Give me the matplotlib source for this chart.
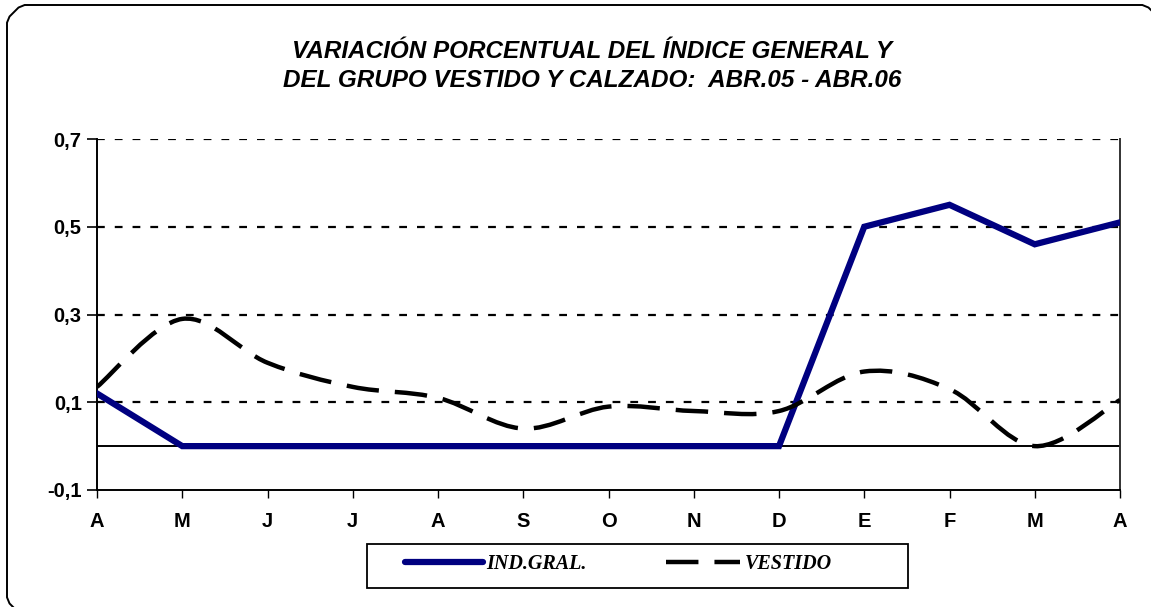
import numpy as np
import matplotlib
matplotlib.use("Agg")
import matplotlib.pyplot as plt
from matplotlib.path import Path
from matplotlib.patches import PathPatch, Rectangle
from matplotlib.lines import Line2D
from matplotlib.transforms import IdentityTransform, Affine2D

months = ["A", "M", "J", "J", "A", "S", "O", "N", "D", "E", "F", "M", "A"]
ind_gral = [0.12, 0.0, 0.0, 0.0, 0.0, 0.0, 0.0, 0.0, 0.0, 0.50, 0.55, 0.46, 0.51]
vestido = [0.135, 0.29, 0.19, 0.135, 0.11, 0.04, 0.09, 0.08, 0.08, 0.17, 0.13, 0.0, 0.105]
yticks = [-0.1, 0.1, 0.3, 0.5, 0.7]
ytick_labels = ["-0,1", "0,1", "0,3", "0,5", "0,7"]
series_names = ["IND.GRAL.", "VESTIDO"]
title = "VARIACIÓN PORCENTUAL DEL ÍNDICE GENERAL Y\nDEL GRUPO VESTIDO Y CALZADO:  ABR.05 - ABR.06"

W, H = 1151, 607
fig = plt.figure(figsize=(W/100, H/100), dpi=100)

# rounded frame in pixel units (cropped at right and bottom, as in the reference)
def corner(cx, cy, r, t1, t2):
    p = Path.arc(t1, t2)
    return Affine2D().scale(r).translate(cx, cy).transform(p.vertices)
r = 24
L, R, T, B = 7, 1160, H - 5, H - 615
pts = np.vstack([
    corner(L + r, B + r, r, 180, 270)[::-1],
    corner(L + r, T - r, r, 90, 180)[::-1],
    corner(R - r, T - r, r, 0, 90)[::-1],
    corner(R - r, B + r, r, 270, 360)[::-1],
])
pts = np.vstack([pts, pts[:1]])
fig.patches.append(PathPatch(Path(pts), transform=IdentityTransform(), fill=False,
                             edgecolor="black", linewidth=1.4))

ax = fig.add_axes([97/W, 1-490/H, (1120-97)/W, (490-139)/H])
x = np.arange(len(months))
ax.set_xlim(0, len(months)-1)
ax.set_ylim(-0.1, 0.7)

for yv in [0.1, 0.3, 0.5, 0.7]:
    ax.axhline(yv, color="black", linewidth=1.6, linestyle=(0, (3.5, 4.5)), zorder=1)
ax.axhline(0, color="black", linewidth=1.4, zorder=2)

ax.plot(x, ind_gral, color="#000080", linewidth=4.5, solid_joinstyle="miter", zorder=3)

dash = (0, (7.3, 3.6))
# smoothed line (Catmull-Rom -> cubic Bezier), like spreadsheet smoothing
xs = np.asarray(x, float); ys = np.asarray(vestido, float)
verts = [(xs[0], ys[0])]; codes = [Path.MOVETO]
n = len(xs)
for i in range(n-1):
    p0 = np.array([xs[max(i-1, 0)], ys[max(i-1, 0)]])
    p1 = np.array([xs[i], ys[i]])
    p2 = np.array([xs[i+1], ys[i+1]])
    p3 = np.array([xs[min(i+2, n-1)], ys[min(i+2, n-1)]])
    c1 = p1 + (p2 - p0) / 6.0
    c2 = p2 - (p3 - p1) / 6.0
    verts += [tuple(c1), tuple(c2), tuple(p2)]
    codes += [Path.CURVE4]*3
ax.add_patch(PathPatch(Path(verts, codes), fill=False, edgecolor="black", linewidth=3.2,
                       linestyle=dash, capstyle="butt", zorder=4))

ax.set_yticks(yticks)
ax.set_yticklabels(ytick_labels)
ax.set_xticks(x)
ax.set_xticklabels(months)
for lab in ax.get_xticklabels() + ax.get_yticklabels():
    lab.set_fontfamily("Liberation Sans")
    lab.set_fontweight("bold")
    lab.set_fontsize(14.5)
ax.tick_params(axis="y", direction="out", length=7, width=1.2, pad=4)
ax.tick_params(axis="x", direction="out", length=6, width=1.0, pad=10)
ax.spines["top"].set_visible(False)
for s in ["left", "bottom"]:
    ax.spines[s].set_linewidth(1.4)
ax.spines["right"].set_linewidth(1.4)
ax.spines["right"].set_color("#333333")

fig.text(592/W, 1-66/H, title, ha="center", va="center", fontsize=17.5, fontweight="bold",
         fontfamily="Liberation Sans", style="italic", linespacing=1.35)

# legend (drawn by hand to match the box layout)
fig.patches.append(Rectangle((367/W, 1-588/H), (908-367)/W, (588-544)/H, transform=fig.transFigure,
                             fill=False, edgecolor="black", linewidth=1.3))
ly = 1-562/H
fig.lines.append(Line2D([405/W, 483/W], [ly, ly], transform=fig.transFigure, color="#000080",
                        linewidth=4.5, solid_capstyle="round"))
fig.lines.append(Line2D([666/W, 740/W], [ly, ly], transform=fig.transFigure, color="black",
                        linewidth=3.2, linestyle=dash, dash_capstyle="butt"))
lp = dict(family="Liberation Serif", style="italic", weight="bold", size=14.5, va="center", ha="left")
fig.text(486/W, 1-564/H, series_names[0], **lp)
fig.text(745/W, 1-564/H, series_names[1], **lp)

fig.savefig("out.png", dpi=100)
